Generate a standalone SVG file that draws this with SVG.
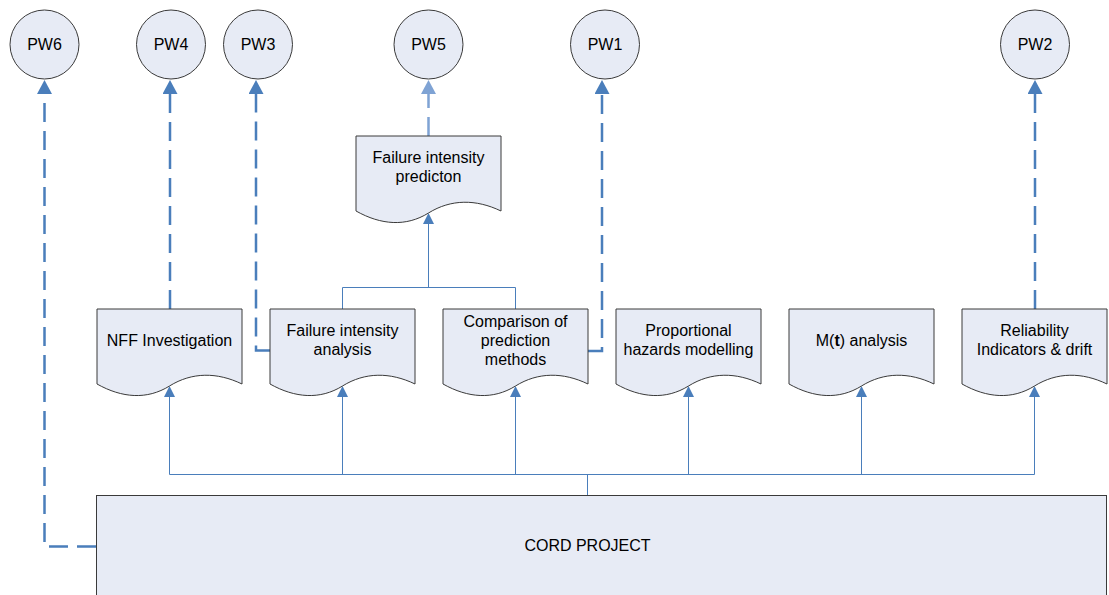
<svg xmlns="http://www.w3.org/2000/svg" width="1109" height="595" viewBox="0 0 1109 595">
<defs>
<style>
.box{fill:#e7ebf5;stroke:#3a3a3a;stroke-width:1}
.circ{fill:#e7ebf5;stroke:#3a3a3a;stroke-width:1}
.t{font-family:"Liberation Sans",Arial,sans-serif;font-size:16px;fill:#000;text-anchor:middle}
.thin{fill:none;stroke:#4a7ebb;stroke-width:1}
.dash{fill:none;stroke:#4a7ebb;stroke-width:2.5;stroke-dasharray:19 9}
.dashl{fill:none;stroke:#7fa3d4;stroke-width:2.5;stroke-dasharray:19 9}
</style>
<marker id="big" markerUnits="userSpaceOnUse" markerWidth="15" markerHeight="15" refX="0" refY="7.5" orient="auto" viewBox="0 0 15 15">
<path d="M0,0 L14,7.5 L0,15 Z" fill="#4a7ebb"/>
</marker>
<marker id="bigl" markerUnits="userSpaceOnUse" markerWidth="15" markerHeight="15" refX="0" refY="7.5" orient="auto" viewBox="0 0 15 15">
<path d="M0,0 L14,7.5 L0,15 Z" fill="#7fa3d4"/>
</marker>
<marker id="sm" markerUnits="userSpaceOnUse" markerWidth="11" markerHeight="11" refX="0" refY="5.5" orient="auto" viewBox="0 0 11 11">
<path d="M0,0 L11,5.5 L0,11 Z" fill="#4a7ebb"/>
</marker>
</defs>

<g id="connectors">
<path class="dash" d="M96,546.5 H44.5 V94" marker-end="url(#big)"/>
<path class="dash" d="M170,309 V94" marker-end="url(#big)"/>
<path class="dash" d="M270,350.5 H256 V94" marker-end="url(#big)"/>
<path class="dashl" d="M428.5,136 V94" marker-end="url(#bigl)"/>
<path class="dash" d="M587,351 H602 V94" marker-end="url(#big)"/>
<path class="dash" d="M1035,309 V94" marker-end="url(#big)"/>

<path class="thin" d="M587.5,495 V474.5"/>
<path class="thin" d="M169.5,474.5 H1034.5"/>
<path class="thin" d="M169.5,474.5 V397" marker-end="url(#sm)"/>
<path class="thin" d="M342.5,474.5 V397" marker-end="url(#sm)"/>
<path class="thin" d="M515.5,474.5 V397" marker-end="url(#sm)"/>
<path class="thin" d="M688.5,474.5 V397" marker-end="url(#sm)"/>
<path class="thin" d="M861.5,474.5 V397" marker-end="url(#sm)"/>
<path class="thin" d="M1034.5,474.5 V397" marker-end="url(#sm)"/>

<path class="thin" d="M342.5,309 V287.5 H515.5 V309"/>
<path class="thin" d="M428.5,287.5 V224" marker-end="url(#sm)"/>
</g>

<g id="pw6"><circle class="circ" cx="44.5" cy="44.5" r="34.5"/><text class="t" x="44.5" y="50">PW6</text></g>
<g id="pw4"><circle class="circ" cx="171" cy="44.5" r="34.5"/><text class="t" x="171" y="50">PW4</text></g>
<g id="pw3"><circle class="circ" cx="258" cy="44.5" r="34.5"/><text class="t" x="258" y="50">PW3</text></g>
<g id="pw5"><circle class="circ" cx="428.5" cy="44.5" r="34.5"/><text class="t" x="428.5" y="50">PW5</text></g>
<g id="pw1"><circle class="circ" cx="605" cy="44.5" r="34.5"/><text class="t" x="605" y="50">PW1</text></g>
<g id="pw2"><circle class="circ" cx="1035" cy="44.5" r="34.5"/><text class="t" x="1035" y="50">PW2</text></g>

<g id="prediction">
<path class="box" d="M356,136 H501 V211 C476,199 451,199 428.5,213 C406,227 381,225 356,211 Z"/>
<text class="t" x="428.5" y="163">Failure intensity</text>
<text class="t" x="428.5" y="182">predicton</text>
</g>

<g id="nff">
<path class="box" d="M97,309 H242 V384 C217,372 192,372 169.5,386 C147,400 122,398 97,384 Z"/>
<text class="t" x="169.5" y="346">NFF Investigation</text>
</g>
<g id="fia">
<path class="box" d="M270,309 H415 V384 C390,372 365,372 342.5,386 C320,400 295,398 270,384 Z"/>
<text class="t" x="342.5" y="336">Failure intensity</text>
<text class="t" x="342.5" y="355">analysis</text>
</g>
<g id="comparison">
<path class="box" d="M443,309 H588 V384 C563,372 538,372 515.5,386 C493,400 468,398 443,384 Z"/>
<text class="t" x="515.5" y="327">Comparison of</text>
<text class="t" x="515.5" y="346">prediction</text>
<text class="t" x="515.5" y="365">methods</text>
</g>
<g id="proportional">
<path class="box" d="M616,309 H761 V384 C736,372 711,372 688.5,386 C666,400 641,398 616,384 Z"/>
<text class="t" x="688.5" y="336">Proportional</text>
<text class="t" x="688.5" y="355">hazards modelling</text>
</g>
<g id="mt">
<path class="box" d="M789,309 H934 V384 C909,372 884,372 861.5,386 C839,400 814,398 789,384 Z"/>
<text class="t" x="861.5" y="346">M(<tspan font-weight="bold">t</tspan>) analysis</text>
</g>
<g id="reliability">
<path class="box" d="M962,309 H1107 V384 C1082,372 1057,372 1034.5,386 C1012,400 987,398 962,384 Z"/>
<text class="t" x="1034.5" y="336">Reliability</text>
<text class="t" x="1034.5" y="355">Indicators &amp; drift</text>
</g>

<g id="cord">
<rect class="box" x="96.5" y="495.5" width="1010" height="110"/>
<text class="t" x="587.5" y="551">CORD PROJECT</text>
</g>
</svg>
